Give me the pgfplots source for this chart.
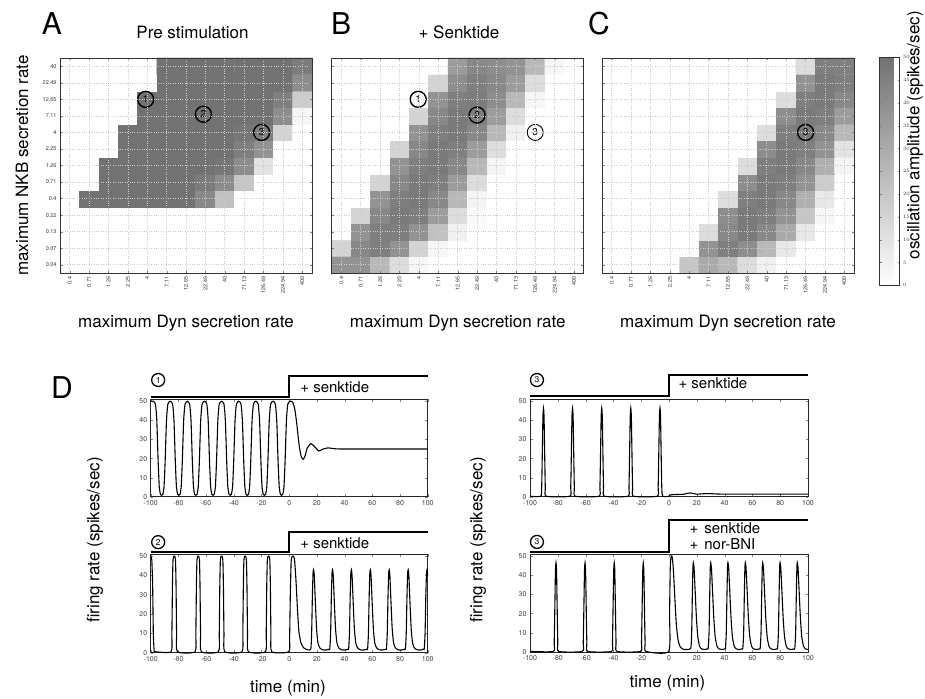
\documentclass[border=0pt]{standalone}
\usepackage{fontspec}
\setmainfont{TeX Gyre Heros}
\usepackage{pgfplots}
\pgfplotsset{compat=1.18}

\newcommand\fs[1]{\fontsize{#1}{#1}\selectfont}

\pgfplotsset{
  hm/.style={
    width=252pt, height=215pt, scale only axis,
    xmin=-0.5, xmax=12.5, ymin=-0.5, ymax=12.5,
    xtick={0,...,12}, ytick={0,...,12},
    xticklabels={0.4,0.71,1.26,2.25,4,7.11,12.65,22.49,40,71.13,126.49,224.94,400},
    xticklabel style={rotate=90, anchor=east, font=\fs{5.5}, text=black!80},
    yticklabel style={font=\fs{5.5}, text=black!80},
    grid=major, grid style={dotted, gray!40, line width=0.6pt},
    axis on top, axis line style={black!80, line width=0.7pt},
    major tick length=2.5pt,
    colormap={gr}{rgb255=(255,255,255) rgb255=(114,114,114)},
    point meta min=0, point meta max=50,
    xlabel={maximum Dyn secretion rate},
    every axis x label/.style={at={(axis description cs:0.5,-0.233)}, anchor=center, font=\fs{17}},
    title style={font=\fs{17}, anchor=center},
  },
  dax/.style={
    width=277pt, height=97.5pt, scale only axis,
    xmin=-100, xmax=100, ymin=0, ymax=51,
    xtick={-100,-80,...,100}, ytick={0,10,...,50},
    tick label style={font=\fs{7}, text=black!75},
    /pgf/number format/assume math mode=true,
    major tick length=2.5pt, clip=false,
    axis line style={black!85, line width=0.8pt},
  },
  sig/.style={black, line width=1.1pt, smooth, tension=0.35},
  step/.style={black, line width=1.8pt},
}
\tikzset{
  num/.style={circle, draw=black, line width=1.4pt, minimum size=16pt, inner sep=0pt, font=\fs{10}},
  nums/.style={circle, draw=black, line width=1.3pt, minimum size=13pt, inner sep=0pt, font=\fs{8.5}},
}

\begin{document}
\begin{tikzpicture}

% ---------------- A ----------------
\begin{axis}[hm, at={(60pt,-58pt)}, anchor=north west,
  yticklabels={0.04,0.07,0.13,0.22,0.4,0.71,1.26,2.25,4,7.11,12.65,22.49,40},
  ylabel={maximum NKB secretion rate},
  every axis y label/.style={at={(axis description cs:-0.151,0.5)}, rotate=90, anchor=center, font=\fs{17}},
  title={Pre stimulation}, title style={at={(axis description cs:0.526,1.091)}}]
\addplot[matrix plot*, mesh/cols=13, point meta=explicit]
  table[row sep=\\, x expr={mod(\coordindex,13)}, y expr={floor(\coordindex/13)}, meta=c] {
c\\
0\\0\\0\\0\\0\\0\\0\\0\\0\\0\\0\\0\\0\\
0\\0\\0\\0\\0\\0\\0\\0\\0\\0\\0\\0\\0\\
0\\0\\0\\0\\0\\0\\0\\0\\0\\0\\0\\0\\0\\
0\\0\\0\\0\\0\\0\\0\\0\\0\\0\\0\\0\\0\\
0\\50\\50\\50\\50\\50\\50\\42\\22\\0\\0\\0\\0\\
0\\0\\50\\50\\50\\50\\50\\46\\40\\20\\0\\0\\0\\
0\\0\\50\\50\\50\\50\\50\\50\\48\\40\\10\\0\\0\\
0\\0\\0\\50\\50\\50\\50\\50\\50\\45\\38\\0\\0\\
0\\0\\0\\50\\50\\50\\50\\50\\50\\48\\45\\15\\0\\
0\\0\\0\\0\\50\\50\\50\\50\\50\\50\\50\\40\\3\\
0\\0\\0\\0\\50\\50\\50\\50\\50\\50\\50\\45\\18\\
0\\0\\0\\0\\0\\50\\50\\50\\50\\50\\50\\50\\40\\
0\\0\\0\\0\\0\\50\\50\\50\\50\\50\\50\\50\\46\\
};
\node[num] at (axis cs:3.92,10) {1};
\node[num] at (axis cs:6.9,9.1) {2};
\node[num] at (axis cs:9.9,8) {3};
\end{axis}

% ---------------- B ----------------
\begin{axis}[hm, at={(331.7pt,-58pt)}, anchor=north west,
  yticklabels={},
  title={+ Senktide}, title style={at={(axis description cs:0.505,1.091)}}]
\addplot[matrix plot*, mesh/cols=13, point meta=explicit]
  table[row sep=\\, x expr={mod(\coordindex,13)}, y expr={floor(\coordindex/13)}, meta=c] {
c\\
38\\38\\25\\12\\3\\0\\0\\0\\0\\0\\0\\0\\0\\
15\\42\\45\\38\\15\\3\\0\\0\\0\\0\\0\\0\\0\\
0\\38\\45\\45\\38\\22\\5\\0\\0\\0\\0\\0\\0\\
0\\15\\42\\47\\45\\35\\12\\2\\0\\0\\0\\0\\0\\
0\\0\\38\\45\\47\\42\\25\\4\\0\\0\\0\\0\\0\\
0\\0\\15\\42\\47\\45\\35\\12\\0\\0\\0\\0\\0\\
0\\0\\0\\38\\45\\47\\42\\25\\4\\0\\0\\0\\0\\
0\\0\\0\\15\\42\\47\\45\\35\\12\\0\\0\\0\\0\\
0\\0\\0\\0\\38\\45\\47\\42\\25\\5\\0\\0\\0\\
0\\0\\0\\0\\15\\42\\47\\45\\35\\12\\0\\0\\0\\
0\\0\\0\\0\\0\\38\\45\\46\\40\\25\\3\\0\\0\\
0\\0\\0\\0\\0\\15\\40\\45\\42\\35\\12\\0\\0\\
0\\0\\0\\0\\0\\0\\35\\42\\40\\38\\25\\3\\0\\
};
\node[num] at (axis cs:3.96,10) {1};
\node[num] at (axis cs:7.0,9.05) {2};
\node[num, line width=0.9pt] at (axis cs:10.0,8) {3};
\end{axis}

% ---------------- C ----------------
\begin{axis}[hm, at={(602pt,-58pt)}, anchor=north west,
  yticklabels={},
  colorbar,
  colorbar style={at={(parent axis.north east)}, anchor=north west,
    xshift=17pt, yshift=0.7pt, width=20pt, height=228pt, scale only axis,
    ytick={0,5,...,50}, yticklabel style={font=\fs{5.5}, text=black!80},
    major tick length=2pt, axis line style={black!80, line width=0.7pt},
    ylabel={oscillation amplitude (spikes/sec)},
    every axis y label/.style={at={(axis description cs:1.78,0.658)}, rotate=90, anchor=center, font=\fs{17}}},
  ]
\addplot[matrix plot*, mesh/cols=13, point meta=explicit]
  table[row sep=\\, x expr={mod(\coordindex,13)}, y expr={floor(\coordindex/13)}, meta=c] {
c\\
0\\0\\0\\0\\20\\30\\25\\12\\5\\0\\0\\0\\0\\
0\\0\\0\\0\\0\\38\\45\\40\\25\\8\\0\\0\\0\\
0\\0\\0\\0\\0\\12\\42\\47\\42\\30\\8\\0\\0\\
0\\0\\0\\0\\0\\0\\40\\47\\45\\38\\20\\3\\0\\
0\\0\\0\\0\\0\\0\\12\\45\\47\\42\\28\\8\\0\\
0\\0\\0\\0\\0\\0\\0\\40\\47\\45\\38\\18\\0\\
0\\0\\0\\0\\0\\0\\0\\12\\45\\47\\42\\28\\4\\
0\\0\\0\\0\\0\\0\\0\\0\\40\\47\\45\\38\\10\\
0\\0\\0\\0\\0\\0\\0\\0\\12\\45\\47\\42\\25\\
0\\0\\0\\0\\0\\0\\0\\0\\0\\40\\47\\45\\35\\
0\\0\\0\\0\\0\\0\\0\\0\\0\\12\\45\\47\\42\\
0\\0\\0\\0\\0\\0\\0\\0\\0\\0\\38\\47\\45\\
0\\0\\0\\0\\0\\0\\0\\0\\0\\0\\12\\45\\45\\
};
\node[num] at (axis cs:10.0,8) {3};
\node[anchor=west, align=left, font=\fs{17}] at (axis description cs:0.245,1.139) {+\hspace{4pt}Senktide};
\node[anchor=west, align=left, font=\fs{17}] at (axis description cs:0.245,1.05) {+\hspace{4pt}nor-BNI};
\end{axis}

% ---------------- D1 ----------------
\begin{axis}[dax, at={(150.7pt,-399.3pt)}, anchor=north west]
\addplot[sig] coordinates {
(-100,50)(-98.3,50)
(-96.6,48.5)(-95.6,40)(-94.6,18)(-93.8,5)(-92.9,1.2)(-92.1,0.8)(-91.3,1.2)(-90.4,5)(-89.6,18)(-88.6,40)(-87.6,48.5)(-85.9,50)
(-84.2,48.5)(-83.2,40)(-82.2,18)(-81.4,5)(-80.5,1.2)(-79.7,0.8)(-78.9,1.2)(-78.0,5)(-77.2,18)(-76.2,40)(-75.2,48.5)(-73.5,50)
(-71.9,48.5)(-70.9,40)(-69.9,18)(-69.1,5)(-68.2,1.2)(-67.4,0.8)(-66.6,1.2)(-65.7,5)(-64.9,18)(-63.9,40)(-62.9,48.5)(-61.2,50)
(-59.5,48.5)(-58.5,40)(-57.5,18)(-56.7,5)(-55.8,1.2)(-55.0,0.8)(-54.2,1.2)(-53.3,5)(-52.5,18)(-51.5,40)(-50.5,48.5)(-48.8,50)
(-47.1,48.5)(-46.1,40)(-45.1,18)(-44.3,5)(-43.4,1.2)(-42.6,0.8)(-41.8,1.2)(-40.9,5)(-40.1,18)(-39.1,40)(-38.1,48.5)(-36.4,50)
(-34.8,48.5)(-33.8,40)(-32.8,18)(-32.0,5)(-31.1,1.2)(-30.3,0.8)(-29.5,1.2)(-28.6,5)(-27.8,18)(-26.8,40)(-25.8,48.5)(-24.1,50)
(-22.4,48.5)(-21.4,40)(-20.4,18)(-19.6,5)(-18.7,1.2)(-17.9,0.8)(-17.1,1.2)(-16.2,5)(-15.4,18)(-14.4,40)(-13.4,48.5)(-11.7,50)
(-10.0,48.5)(-9.0,40)(-8.0,18)(-7.2,5)(-6.3,1.2)(-5.5,0.8)(-4.7,1.2)(-3.8,5)(-3.0,18)(-2.0,40)(-1.0,48.5)
(0.7,50)(2.5,49.5)(4,46)(5.5,38)(7,28)(8.5,21.5)(10.1,19.6)(11.5,21.5)(13,25.5)(15.7,27.8)(18,26.5)(21.4,24.0)(24.5,25)(28.1,25.6)(32,25.2)(40,25)(100,25)
};
\addplot[step] coordinates {(-100,52.4)(0,52.4)(0,63.3)(100,63.3)};
\node[anchor=west, font=\fs{15}] at (axis cs:5.5,57.4) {+ senktide};
\node[nums] at (axis cs:-94.6,61.1) {1};
\end{axis}

% ---------------- D2 ----------------
\begin{axis}[dax, at={(150.7pt,-554.3pt)}, anchor=north west, height=98.4pt]
\addplot[sig] coordinates {
(-100,50)(-99.2,48)(-98.6,35)(-98.1,10)(-97.5,1)(-96.8,0.5)
(-85.3,0.5)(-84.7,10)(-84.3,35)(-83.9,48)(-83.3,50)(-82.7,50)(-82.1,48)(-81.7,35)(-81.3,10)(-80.7,0.5)
(-68.0,0.5)(-67.4,10)(-67.0,35)(-66.6,48)(-66.0,50)(-65.4,50)(-64.8,48)(-64.4,35)(-64.0,10)(-63.4,0.5)
(-51.1,0.5)(-50.5,10)(-50.1,35)(-49.7,48)(-49.1,50)(-48.5,50)(-47.9,48)(-47.5,35)(-47.1,10)(-46.5,0.5)
(-34.1,0.5)(-33.5,10)(-33.1,35)(-32.7,48)(-32.1,50)(-31.5,50)(-30.9,48)(-30.5,35)(-30.1,10)(-29.5,0.5)
(-17.2,0.5)(-16.6,10)(-16.2,35)(-15.8,48)(-15.2,50)(-14.6,50)(-14.0,48)(-13.6,35)(-13.2,10)(-12.6,0.5)
(-0.3,0.5)(0.3,8)(0.8,30)(1.4,47)(2.2,50)(3.2,50)(4,47)(5,36)(6,22)(7,11)(8.5,5)(10.5,2.5)(13.5,1.5)
(15.6,2)(16.2,10)(16.7,28)(17.2,41)(17.6,43)(18.1,40)(18.9,26)(19.8,12)(20.8,5)(22.1,2.5)(24.1,1.5)(26.6,1.4)(28.6,1.8)
(29.3,2)(29.9,10)(30.4,28)(30.9,41)(31.3,43)(31.8,40)(32.6,26)(33.5,12)(34.5,5)(35.8,2.5)(37.8,1.5)(40.3,1.4)(42.3,1.8)
(42.9,2)(43.5,10)(44.0,28)(44.5,41)(44.9,43)(45.4,40)(46.2,26)(47.1,12)(48.1,5)(49.4,2.5)(51.4,1.5)(53.9,1.4)(55.9,1.8)
(56.6,2)(57.2,10)(57.7,28)(58.2,41)(58.6,43)(59.1,40)(59.9,26)(60.8,12)(61.8,5)(63.1,2.5)(65.1,1.5)(67.6,1.4)(69.6,1.8)
(70.2,2)(70.8,10)(71.3,28)(71.8,41)(72.2,43)(72.7,40)(73.5,26)(74.4,12)(75.4,5)(76.7,2.5)(78.7,1.5)(81.2,1.4)(83.2,1.8)
(83.9,2)(84.5,10)(85.0,28)(85.5,41)(85.9,43)(86.4,40)(87.2,26)(88.1,12)(89.1,5)(90.4,2.5)(92.4,1.5)(94.9,1.4)(96.9,1.8)
(97.5,2)(98.1,10)(98.6,28)(99.1,41)(99.5,43)(100,40)
};
\addplot[step] coordinates {(-100,52.2)(0,52.2)(0,62.6)(100,62.6)};
\node[anchor=west, font=\fs{15}] at (axis cs:5.5,56.9) {+ senktide};
\node[nums] at (axis cs:-94.6,57.3) {2};
\end{axis}

% ---------------- D3 ----------------
\begin{axis}[dax, at={(530pt,-399.3pt)}, anchor=north west, width=278pt]
\addplot[sig] coordinates {
(-100,0.3)
(-92.3,0.3)(-91.6,5)(-91.1,25)(-90.7,42)(-90.3,46.5)(-89.9,42)(-89.5,25)(-89.0,5)(-88.3,0.3)
(-71.4,0.3)(-70.7,5)(-70.2,25)(-69.8,42)(-69.4,46.5)(-69.0,42)(-68.6,25)(-68.1,5)(-67.4,0.3)
(-50.4,0.3)(-49.7,5)(-49.2,25)(-48.8,42)(-48.4,46.5)(-48.0,42)(-47.6,25)(-47.1,5)(-46.4,0.3)
(-29.5,0.3)(-28.8,5)(-28.3,25)(-27.9,42)(-27.5,46.5)(-27.1,42)(-26.7,25)(-26.2,5)(-25.5,0.3)
(-8.5,0.3)(-7.8,5)(-7.3,25)(-6.9,42)(-6.5,46.5)(-6.1,42)(-5.7,25)(-5.2,5)(-4.5,0.3)
(0,0.3)(1,1)(5,1.2)(10,1.3)(15,2)(20,1.4)(28,1.7)(40,1.4)(100,1.4)
};
\addplot[step] coordinates {(-100,52.6)(0,52.6)(0,63.6)(100,63.6)};
\node[anchor=west, font=\fs{15}] at (axis cs:4.3,59.5) {+ senktide};
\node[nums] at (axis cs:-95,61.1) {3};
\end{axis}

% ---------------- D4 ----------------
\begin{axis}[dax, at={(530pt,-554pt)}, anchor=north west, width=278pt, height=98pt]
\addplot[sig] coordinates {
(-100,0.3)
(-83.3,0.3)(-82.6,5)(-82.1,25)(-81.7,42)(-81.3,46.5)(-80.9,42)(-80.5,25)(-80.0,5)(-79.3,0.3)
(-62.4,0.3)(-61.7,5)(-61.2,25)(-60.8,42)(-60.4,46.5)(-60.0,42)(-59.6,25)(-59.1,5)(-58.4,0.3)
(-41.4,0.3)(-40.7,5)(-40.2,25)(-39.8,42)(-39.4,46.5)(-39.0,42)(-38.6,25)(-38.1,5)(-37.4,0.3)
(-20.5,0.3)(-19.8,5)(-19.3,25)(-18.9,42)(-18.5,46.5)(-18.1,42)(-17.7,25)(-17.2,5)(-16.5,0.3)
(-0.2,0.3)(0.4,20)(0.9,44)(1.6,50)(2.4,49)(3.2,42)(4.2,28)(5.3,14)(6.6,6)(8.2,2.5)(10.5,1.4)(13,1.3)
(15.7,2)(16.3,10)(16.8,30)(17.2,44)(17.5,46.5)(18.0,44)(18.8,32)(19.7,18)(20.7,8)(22.0,3)(23.5,1.6)(25.5,1.3)(27.5,1.6)
(28.2,2)(28.8,10)(29.3,30)(29.7,44)(30.0,46.5)(30.5,44)(31.3,32)(32.2,18)(33.2,8)(34.5,3)(36.0,1.6)(38.0,1.3)(40.0,1.6)
(40.6,2)(41.2,10)(41.7,30)(42.1,44)(42.4,46.5)(42.9,44)(43.7,32)(44.6,18)(45.6,8)(46.9,3)(48.4,1.6)(50.4,1.3)(52.4,1.6)
(53.1,2)(53.7,10)(54.2,30)(54.6,44)(54.9,46.5)(55.4,44)(56.2,32)(57.1,18)(58.1,8)(59.4,3)(60.9,1.6)(62.9,1.3)(64.9,1.6)
(65.6,2)(66.2,10)(66.7,30)(67.1,44)(67.4,46.5)(67.9,44)(68.7,32)(69.6,18)(70.6,8)(71.9,3)(73.4,1.6)(75.4,1.3)(77.4,1.6)
(78.1,2)(78.7,10)(79.2,30)(79.6,44)(79.9,46.5)(80.4,44)(81.2,32)(82.1,18)(83.1,8)(84.4,3)(85.9,1.6)(87.9,1.3)(89.9,1.6)
(90.5,2)(91.1,10)(91.6,30)(92.0,44)(92.3,46.5)(92.8,44)(93.6,32)(94.5,18)(95.5,8)(96.8,3)(98.3,1.6)(100,1.3)
};
\addplot[step] coordinates {(-100,52.0)(0,52.0)(0,68.7)(100,68.7)};
\node[anchor=west, font=\fs{15}] at (axis cs:12.3,64.3) {+\hspace{6pt}senktide};
\node[anchor=west, font=\fs{15}] at (axis cs:12.3,56.2) {+\hspace{6pt}nor-BNI};
\node[nums] at (axis cs:-95,57.3) {3};
\end{axis}

% panel letters and shared labels
\node[font=\fs{30}] at (52pt,-24pt) {A};
\node[font=\fs{30}] at (341pt,-24pt) {B};
\node[font=\fs{30}] at (599pt,-24pt) {C};
\node[font=\fs{30}] at (62pt,-388pt) {D};
\node[font=\fs{17}, rotate=90] at (95pt,-540pt) {firing rate (spikes/sec)};
\node[font=\fs{17}, rotate=90] at (478pt,-540pt) {firing rate (spikes/sec)};
\node[font=\fs{17}] at (288pt,-688pt) {time (min)};
\node[font=\fs{17}] at (667.5pt,-683.5pt) {time (min)};

\pgfresetboundingbox
\path[use as bounding box] (0pt,0pt) rectangle (925pt,-698pt);
\end{tikzpicture}
\end{document}
